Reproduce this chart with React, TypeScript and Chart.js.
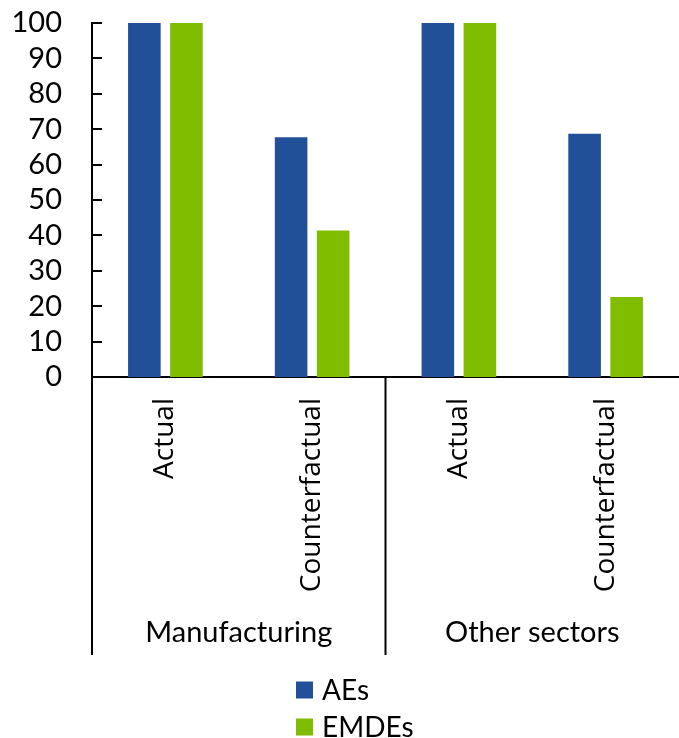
import React, { useEffect, useRef } from 'react';
import { Chart, registerables } from 'chart.js';

Chart.register(...registerables);

const categories = ['Actual', 'Counterfactual', 'Actual', 'Counterfactual'];
const groups = ['Manufacturing', 'Other sectors'];
const groupSizes = [2, 2];
const aesValues = [100, 67.7, 100, 68.7];
const emdesValues = [100, 41.4, 100, 22.6];
const yTicks = [0, 10, 20, 30, 40, 50, 60, 70, 80, 90, 100];
const seriesNames = ['AEs', 'EMDEs'];
const seriesColors = ['#214f98', '#80bc00'];

const W = 679;
const H = 738;
const calibriLike = 'Lato, "Open Sans", sans-serif';
const segoeLike = '"Open Sans", Lato, sans-serif';

const decorPlugin = {
  id: 'decor',
  afterDraw(chart: any) {
    const { ctx, chartArea, scales } = chart;
    const x = scales.x;
    const y = scales.y;
    ctx.save();
    ctx.strokeStyle = '#000';
    ctx.lineWidth = 2;
    // inward y ticks
    yTicks.forEach((v) => {
      const py = Math.round(y.getPixelForValue(v));
      ctx.beginPath();
      ctx.moveTo(chartArea.left, py);
      ctx.lineTo(chartArea.left + 10, py);
      ctx.stroke();
    });
    // group separators and labels
    const step = x.getPixelForValue(1) - x.getPixelForValue(0);
    const sepBottom = chartArea.bottom + 278;
    let start = 0;
    const bounds: number[] = [x.getPixelForValue(0) - step / 2];
    groupSizes.forEach((n) => {
      start += n;
      bounds.push(x.getPixelForValue(start - 1) + step / 2);
    });
    bounds.forEach((bx) => {
      if (bx >= chart.width - 1) return;
      ctx.beginPath();
      ctx.moveTo(bx, chartArea.bottom);
      ctx.lineTo(bx, sepBottom);
      ctx.stroke();
    });
    ctx.fillStyle = '#000';
    ctx.font = `29px ${calibriLike}`;
    ctx.textAlign = 'center';
    ctx.textBaseline = 'middle';
    groups.forEach((g, i) => {
      const cx = (bounds[i] + bounds[i + 1]) / 2;
      ctx.fillText(g, cx, chartArea.bottom + 256);
    });
    // legend
    const lx = 296;
    const rows = [chart.height - 48, chart.height - 11];
    ctx.textAlign = 'left';
    ctx.font = `28px ${calibriLike}`;
    chart.data.datasets.forEach((ds: any, i: number) => {
      const cy = rows[i];
      ctx.fillStyle = ds.backgroundColor;
      ctx.fillRect(lx, cy - 8.5, 17, 17);
      ctx.fillStyle = '#000';
      ctx.fillText(ds.label, lx + 26, cy + 1);
    });
    ctx.restore();
  },
};

export default function App() {
  const ref = useRef<HTMLCanvasElement>(null);
  useEffect(() => {
    if (!ref.current) return;
    const chart = new Chart(ref.current, {
      type: 'bar',
      data: {
        labels: categories,
        datasets: [
          { label: seriesNames[0], data: aesValues, backgroundColor: seriesColors[0] },
          { label: seriesNames[1], data: emdesValues, backgroundColor: seriesColors[1] },
        ],
      },
      options: {
        responsive: false,
        animation: false,
        layout: { padding: { top: 23, right: 0, bottom: 0, left: 0 } },
        datasets: {
          bar: { categoryPercentage: 0.573, barPercentage: 0.775 },
        },
        plugins: {
          legend: { display: false },
          tooltip: { enabled: false },
        },
        scales: {
          x: {
            grid: { display: false, drawTicks: false },
            border: { display: true, color: '#000', width: 2 },
            ticks: {
              autoSkip: false,
              maxRotation: 90,
              minRotation: 90,
              padding: 21,
              color: '#000',
              font: { family: segoeLike, size: 28, weight: '500' },
            },
            afterFit: (s: any) => {
              s.height = H - 377;
            },
          },
          y: {
            min: 0,
            max: 100,
            afterBuildTicks: (s: any) => {
              s.ticks = yTicks.map((v) => ({ value: v }));
            },
            grid: { display: false, drawTicks: false },
            border: { display: true, color: '#000', width: 2 },
            ticks: {
              autoSkip: false,
              padding: 30,
              color: '#000',
              font: { family: calibriLike, size: 29 },
            },
            afterFit: (s: any) => {
              s.width = 92;
              s.paddingTop = 0;
              s.paddingBottom = 0;
            },
          },
        },
      },
      plugins: [decorPlugin],
    });
    return () => chart.destroy();
  }, []);
  return (
    <div style={{ position: 'absolute', left: 0, top: 0, width: W, height: H, background: '#fff' }}>
      <canvas ref={ref} width={W} height={H} style={{ display: 'block' }} />
    </div>
  );
}
